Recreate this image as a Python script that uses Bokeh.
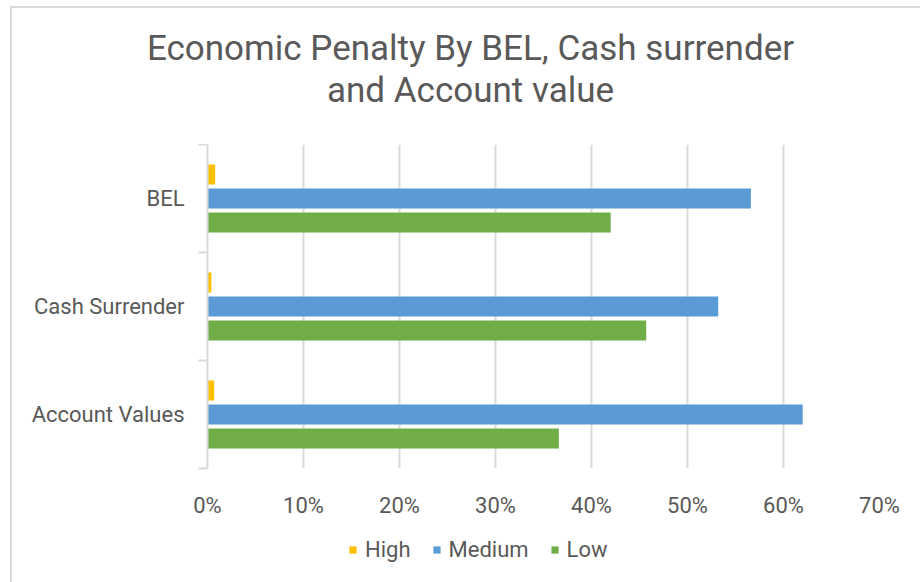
from bokeh.plotting import figure
from bokeh.layouts import column
from bokeh.models import ColumnDataSource, FixedTicker, NumeralTickFormatter, Range1d
from bokeh.transform import dodge
from bokeh.core.properties import value
from bokeh.embed import file_html
from bokeh.resources import INLINE

# ---- data (bottom to top) ----
categories = ["Account Values", "Cash Surrender", "BEL"]
series_names = ["High", "Medium", "Low"]
high = [0.007, 0.004, 0.008]
medium = [0.620, 0.532, 0.566]
low = [0.366, 0.457, 0.420]
x_ticks = [0.0, 0.1, 0.2, 0.3, 0.4, 0.5, 0.6, 0.7]
colors = ["#FFC000", "#5B9BD5", "#70AD47"]
title_lines = ["Economic Penalty By BEL, Cash surrender", "and Account value"]

FONT = "Roboto"
TXT = "#595959"
GRID = "#d9d9d9"
W = 908  # canvas width inside the chart border


def bare(fig):
    fig.xaxis.visible = False
    fig.yaxis.visible = False
    fig.xgrid.visible = False
    fig.ygrid.visible = False
    fig.outline_line_color = None
    fig.min_border_left = fig.min_border_right = 0
    fig.min_border_top = fig.min_border_bottom = 0
    fig.frame_align = False
    return fig


# ---- title strip ----
TH = 136
tf = bare(figure(output_backend="svg", toolbar_location=None, frame_width=W, frame_height=TH,
                 x_range=Range1d(0, W), y_range=Range1d(TH, 0)))
tf.text(x=[458, 458], y=[40, 82], text=title_lines, text_align="center", text_baseline="middle",
        text_font=value(FONT), text_font_size=value("35px"), text_color=TXT)

# ---- main chart ----
ypos = [i + 0.5 for i in range(len(categories))]
src = ColumnDataSource(dict(y=ypos, High=high, Medium=medium, Low=low))

p = figure(output_backend="svg", toolbar_location=None,
           frame_width=672, frame_height=324,
           min_border_left=195, min_border_right=41,
           min_border_top=0, min_border_bottom=52,
           x_range=Range1d(0, 0.7), y_range=Range1d(0, len(categories)))
p.frame_align = False

offsets = [0.222, 0.0, -0.222]
for name, col, off in zip(series_names, colors, offsets):
    p.hbar(y=dodge("y", off, range=p.y_range), left=0, right=name, height=0.185,
           source=src, fill_color=col, line_color=None)

p.xaxis.ticker = FixedTicker(ticks=x_ticks)
p.xaxis.formatter = NumeralTickFormatter(format="0%")
p.xaxis.axis_line_color = None
p.xaxis.major_tick_line_color = None
p.xaxis.minor_tick_line_color = None
p.xaxis.major_label_text_font = FONT
p.xaxis.major_label_text_font_size = "22px"
p.xaxis.major_label_text_color = TXT
p.xaxis.major_label_standoff = 18

p.yaxis.ticker = FixedTicker(ticks=ypos, minor_ticks=[float(i) for i in range(len(categories) + 1)])
p.yaxis.major_label_overrides = {y: c for y, c in zip(ypos, categories)}
p.yaxis.major_tick_line_color = None
p.yaxis.minor_tick_in = 0
p.yaxis.minor_tick_out = 9
p.yaxis.minor_tick_line_color = GRID
p.yaxis.minor_tick_line_width = 2
p.yaxis.axis_line_color = GRID
p.yaxis.axis_line_width = 2
p.yaxis.major_label_text_font = FONT
p.yaxis.major_label_text_font_size = "22px"
p.yaxis.major_label_text_color = TXT
p.yaxis.major_label_standoff = 14

p.ygrid.visible = False
p.xgrid.ticker = FixedTicker(ticks=x_ticks)
p.xgrid.grid_line_color = GRID
p.xgrid.grid_line_width = 2
p.outline_line_color = None

# ---- legend strip (hidden proxy renderers on the same data) ----
LH = 62
lf = bare(figure(output_backend="svg", toolbar_location=None, frame_width=W, frame_height=LH,
                 x_range=Range1d(0, 1), y_range=Range1d(0, 1)))
for name, col in zip(series_names, colors):
    lf.hbar(y="y", left=0, right=name, height=0.185, source=src,
            fill_color=col, line_color=None, legend_label=name, visible=False)
leg = lf.legend[0]
leg.orientation = "horizontal"
leg.location = (336, 20)
leg.padding = 0
leg.margin = 0
leg.border_line_color = None
leg.background_fill_alpha = 0
leg.inactive_fill_alpha = 0
leg.label_text_font = FONT
leg.label_text_font_size = "22px"
leg.label_text_color = TXT
leg.glyph_width = 9
leg.glyph_height = 9
leg.spacing = 21
leg.label_standoff = 8

layout = column(tf, p, lf, spacing=0)
layout.styles = {"margin-left": "10px", "margin-top": "6px",
                 "border-left": "2px solid #d9d9d9", "border-top": "2px solid #d9d9d9"}

open("out.html", "w").write(file_html(layout, INLINE))
